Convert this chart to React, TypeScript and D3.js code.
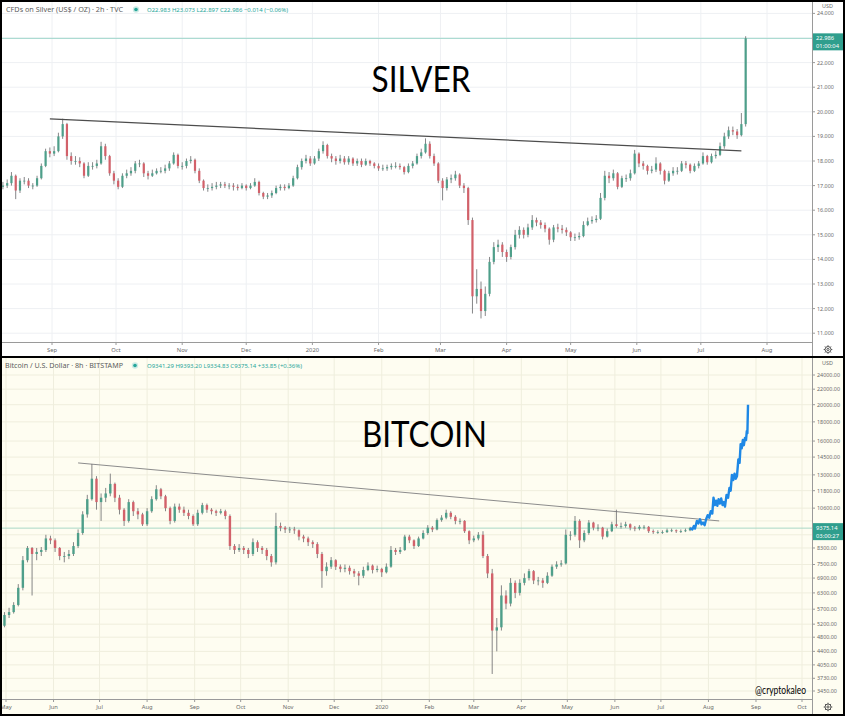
import * as d3 from "d3";

const W = 845;
const H = 716;

// ---- Silver (TVC, 2h) – one candle per 2 days ----
const SILVER_FIRST_DAY = "2019-08-09";
const SILVER_BAR_DAYS = 2;
const SILVER_OPEN_0 = 16.95;
const SILVER_CLOSE = [
  17.0, 17.1, 17.4, 16.8, 17.2, 17.2, 17.0, 17.0, 17.3, 17.8,
  18.4, 18.3, 18.4, 19.0, 19.5, 18.2, 18.0, 18.0, 17.9, 17.4,
  17.8, 17.8, 17.9, 18.6, 18.2, 17.5, 17.2, 16.95, 17.4, 17.5,
  17.6, 17.9, 17.9, 17.5, 17.4, 17.5, 17.6, 17.6, 17.7, 17.9,
  18.25, 17.8, 17.8, 18.0, 18.05, 17.6, 17.2, 16.9, 16.9, 16.95,
  17.0, 17.05, 17.0, 17.0, 16.95, 16.9, 17.0, 16.9, 17.0, 17.15,
  16.7, 16.55, 16.6, 16.7, 16.9, 16.95, 16.9, 17.0, 17.3, 17.75,
  18.0, 18.1, 17.9, 18.1, 18.4, 18.65, 18.2, 18.1, 18.0, 18.1,
  17.95, 18.1, 17.9, 18.0, 17.85, 18.0, 17.9, 17.8, 17.7, 17.7,
  17.75, 17.8, 17.8, 17.75, 17.55, 17.8, 17.9, 18.2, 18.35, 18.7,
  18.2, 17.9, 17.2, 16.9, 17.25, 17.3, 17.45, 17.0, 16.9, 15.6,
  12.5, 12.8, 11.9, 12.6, 13.9, 14.5, 14.6, 14.3, 14.1, 14.5,
  15.0, 15.2, 15.0, 15.3, 15.6, 15.5, 15.4, 15.25, 14.8, 15.3,
  15.25, 15.2, 15.1, 14.9, 14.9, 14.95, 15.4, 15.55, 15.6, 15.65,
  16.5, 17.4, 17.3, 17.5, 16.95, 17.3, 17.3, 17.5, 18.3, 17.9,
  17.8, 17.6, 17.65, 17.9, 17.6, 17.2, 17.5, 17.6, 17.6, 17.9,
  17.85, 17.6, 17.8, 17.9, 18.2, 17.95, 18.2, 18.25, 18.6, 19.0,
  19.25, 19.2, 19.05, 19.5, 22.986,
];
const SILVER_HIGH = [
  17.15, 17.25, 17.55, 17.45, 17.3, 17.35, 17.3, 17.1, 17.4, 17.9,
  18.5, 18.55, 18.6, 19.15, 19.72, 19.55, 18.35, 18.2, 18.15, 17.95,
  17.95, 17.95, 18.05, 18.78, 18.7, 18.25, 17.6, 17.3, 17.5, 17.65,
  17.75, 18.0, 18.05, 17.95, 17.6, 17.65, 17.7, 17.75, 17.85, 18.0,
  18.35, 18.3, 17.95, 18.1, 18.2, 18.1, 17.7, 17.25, 17.05, 17.1,
  17.15, 17.15, 17.15, 17.1, 17.1, 17.05, 17.1, 17.05, 17.1, 17.3,
  17.2, 16.75, 16.7, 16.8, 17.0, 17.05, 17.05, 17.1, 17.4, 17.85,
  18.1, 18.25, 18.2, 18.2, 18.5, 18.8, 18.7, 18.3, 18.2, 18.25,
  18.2, 18.2, 18.15, 18.1, 18.1, 18.1, 18.05, 17.95, 17.9, 17.85,
  17.85, 17.9, 17.95, 17.9, 17.8, 17.9, 18.0, 18.3, 18.5, 18.92,
  18.8, 18.3, 17.95, 17.3, 17.35, 17.45, 17.6, 17.5, 17.1, 16.95,
  15.7, 13.6, 13.1, 12.9, 14.1, 14.7, 14.8, 14.7, 14.4, 14.6,
  15.2, 15.35, 15.3, 15.45, 15.8, 15.7, 15.6, 15.5, 15.3, 15.4,
  15.45, 15.4, 15.3, 15.15, 15.05, 15.1, 15.55, 15.7, 15.75, 15.8,
  16.7, 17.6, 17.55, 17.65, 17.55, 17.4, 17.45, 17.65, 18.45, 18.35,
  18.0, 17.85, 17.8, 18.15, 17.95, 17.65, 17.6, 17.75, 17.75, 18.0,
  18.0, 17.9, 17.9, 18.0, 18.35, 18.25, 18.3, 18.4, 18.75, 19.15,
  19.4, 19.4, 19.3, 19.95, 23.073,
];
const SILVER_LOW = [
  16.85, 16.9, 17.0, 16.45, 16.7, 17.05, 16.9, 16.85, 16.95, 17.25,
  17.75, 18.15, 18.2, 18.35, 18.9, 18.05, 17.85, 17.85, 17.75, 17.3,
  17.35, 17.65, 17.7, 17.85, 18.05, 17.4, 17.05, 16.85, 16.9, 17.3,
  17.4, 17.5, 17.75, 17.35, 17.25, 17.35, 17.45, 17.5, 17.5, 17.6,
  17.85, 17.7, 17.65, 17.7, 17.9, 17.5, 17.1, 16.8, 16.75, 16.8,
  16.85, 16.9, 16.9, 16.85, 16.8, 16.8, 16.85, 16.8, 16.85, 16.95,
  16.6, 16.45, 16.45, 16.5, 16.65, 16.8, 16.8, 16.85, 16.95, 17.25,
  17.65, 17.9, 17.8, 17.85, 18.0, 18.3, 18.1, 17.95, 17.85, 17.9,
  17.85, 17.85, 17.8, 17.8, 17.75, 17.8, 17.8, 17.7, 17.6, 17.6,
  17.6, 17.65, 17.7, 17.65, 17.45, 17.5, 17.7, 17.85, 18.1, 18.3,
  18.1, 17.8, 17.1, 16.4, 16.8, 17.1, 17.2, 16.9, 16.7, 15.4,
  11.8, 12.2, 11.6, 11.7, 12.5, 13.8, 14.3, 14.1, 13.9, 14.0,
  14.4, 14.85, 14.85, 14.9, 15.2, 15.35, 15.25, 15.1, 14.6, 14.7,
  15.1, 15.05, 14.95, 14.75, 14.75, 14.8, 14.9, 15.35, 15.45, 15.5,
  15.6, 16.4, 17.1, 17.2, 16.85, 16.9, 17.15, 17.2, 17.45, 17.75,
  17.65, 17.45, 17.5, 17.55, 17.45, 17.05, 17.15, 17.4, 17.45, 17.55,
  17.7, 17.5, 17.55, 17.7, 17.85, 17.85, 17.9, 18.1, 18.2, 18.5,
  18.9, 19.05, 18.9, 19.0, 19.4,
];
const SILVER_TICKS = [11, 12, 13, 14, 15, 16, 17, 18, 19, 20, 21, 22, 23, 24];
const SILVER_TREND_DATES = ["2019-08-31", "2020-07-20"];
const SILVER_TREND_VALUES = [19.71, 18.41];
const SILVER_LAST = 22.986;

// ---- Bitcoin (BITSTAMP, 8h) – one candle per 3 days ----
const BTC_FIRST_DAY = "2019-04-27";
const BTC_BAR_DAYS = 3;
const BTC_OPEN_0 = 5100;
const BTC_CLOSE = [
  5150, 5500, 5600, 5850, 6500, 7700, 8300, 8000, 8100, 8200,
  8800, 8700, 8300, 7900, 7900, 8000, 8400, 9100, 10200, 11200,
  12700, 11000, 11300, 11600, 12300, 11300, 10500, 9800, 11000, 10400,
  10200, 9600, 10400, 11200, 11900, 11400, 10600, 9800, 10700, 10500,
  10300, 10100, 9600, 10300, 10800, 10500, 10400, 10300, 10400, 10100,
  8400, 8200, 8300, 8200, 8000, 8600, 8300, 8200, 7900, 7600,
  9500, 9400, 9300, 9300, 9250, 8900, 8800, 8600, 8500, 8000,
  7200, 7400, 7700, 7400, 7300, 7350, 7200, 7100, 7000, 7250,
  7450, 7250, 7300, 7150, 7400, 8200, 8100, 8200, 8900, 8700,
  8400, 8800, 9100, 9400, 9300, 9850, 10000, 10300, 10050, 9800,
  9800, 9200, 8700, 8800, 9000, 7900, 7100, 5000, 5100, 6200,
  5900, 6700, 6300, 6700, 6900, 7200, 6800, 6800, 6700, 7000,
  7400, 7500, 7550, 9000, 9000, 9800, 8700, 9100, 9700, 9400,
  9400, 8900, 9200, 9600, 9500, 9500, 9600, 9400, 9350, 9450,
  9450, 9200, 9150, 9150, 9150, 9250, 9250, 9200, 9200, 9250,
  9375.14,
];
const BTC_HIGH = [
  5250, 5600, 5750, 5950, 6650, 7900, 8400, 8350, 8300, 8350,
  9000, 8950, 8800, 8350, 8100, 8200, 8600, 9300, 10400, 11500,
  13900, 12900, 11600, 12000, 13100, 12400, 11500, 10600, 11200, 11100,
  10600, 10300, 10600, 11400, 12200, 12000, 11500, 10700, 10900, 10900,
  10700, 10500, 10200, 10500, 10950, 10900, 10600, 10500, 10550, 10500,
  10200, 8500, 8500, 8400, 8300, 8800, 8700, 8400, 8300, 8000,
  10300, 9700, 9500, 9450, 9450, 9300, 9000, 8900, 8700, 8600,
  8100, 7600, 7850, 7750, 7500, 7500, 7450, 7300, 7200, 7400,
  7600, 7500, 7450, 7350, 7550, 8400, 8300, 8350, 9000, 9000,
  8750, 8900, 9250, 9550, 9500, 9950, 10150, 10500, 10400, 10150,
  9950, 9850, 9250, 8950, 9150, 9200, 8000, 7300, 5400, 6600,
  6400, 6900, 6800, 6850, 7100, 7300, 7250, 6950, 6900, 7150,
  7500, 7650, 7700, 9300, 9200, 10100, 9900, 9250, 9850, 9750,
  9600, 9450, 9350, 9750, 10500, 9700, 9750, 9650, 9500, 9550,
  9550, 9500, 9300, 9250, 9250, 9350, 9350, 9300, 9300, 9350,
  9450,
];
const BTC_LOW = [
  5050, 5100, 5400, 5550, 5800, 6400, 7600, 6200, 7700, 7900,
  8100, 8500, 8100, 7700, 7600, 7750, 7900, 8300, 9000, 10000,
  11100, 10500, 9800, 11000, 11400, 11000, 10200, 9500, 9700, 10100,
  9900, 9500, 9500, 10300, 11100, 11200, 10400, 9600, 9700, 10300,
  10100, 9900, 9500, 9500, 10200, 10300, 10200, 10100, 10200, 9900,
  8200, 8000, 8100, 8000, 7800, 7900, 8100, 8000, 7700, 7400,
  7500, 9200, 9100, 9100, 9050, 8700, 8600, 8400, 8300, 7800,
  6500, 7000, 7300, 7250, 7150, 7150, 7050, 6950, 6600, 6900,
  7200, 7100, 7150, 6950, 7100, 7350, 7950, 8000, 8150, 8550,
  8250, 8350, 8750, 9000, 9150, 9250, 9750, 9900, 9900, 9600,
  9600, 9100, 8500, 8600, 8700, 7800, 6900, 3830, 4400, 5000,
  5700, 5800, 6100, 6200, 6600, 6800, 6650, 6600, 6500, 6650,
  6950, 7300, 7400, 7500, 8700, 8900, 8300, 8600, 9000, 9250,
  9200, 8750, 8850, 9150, 9400, 9350, 9400, 9250, 9200, 9250,
  9300, 9100, 9050, 9050, 9050, 9100, 9150, 9100, 9100, 9150,
  9200,
];
// hand-drawn blue projection after the last candle (days after it, price)
const BTC_PROJ_DAYS = [
  0, 1.5, 2.5, 3.2, 4.5, 5.5, 6.5, 7.5, 8.5, 9.5, 10.5, 11.5, 12.5, 13.5,
  14.5, 15.3, 16.2, 17, 17.8, 18.6, 19.5, 20.3, 21.2, 22, 22.8, 23.8, 24.8,
  25.7, 26.5, 27.3, 28.2, 29, 29.8, 30.6, 31.5, 32.3, 33, 33.7, 34.4, 35.1,
  35.8, 36.5, 37, 37.4, 37.8,
];
const BTC_PROJ_VALUES = [
  9375, 9300, 9500, 9350, 9800, 9650, 9900, 9600, 9700, 9550, 9900, 10150,
  10000, 10400, 10250, 11300, 10800, 11100, 10750, 11200, 10900, 11250, 10800,
  11000, 10700, 11500, 11300, 12000, 11800, 13000, 12600, 13100, 12700, 12900,
  14300, 14000, 15700, 15300, 16100, 15600, 16300, 16100, 17000, 16800, 20000,
];
const BTC_TICKS = [
  24000, 22000, 20000, 18000, 16000, 14500, 13000, 11800, 10600, 9800, 9000,
  8300, 7500, 6900, 6300, 5700, 5200, 4800, 4400, 4050, 3730, 3450,
];
const BTC_TREND_DATES = ["2019-06-17", "2020-08-08"];
const BTC_TREND_VALUES = [13990, 9800];
const BTC_LAST = 9375.14;

const UP = "#4e9f8a";
const DOWN = "#d2616a";
const WICK = "#707072";
const FONT = "'Noto Sans', 'DejaVu Sans', sans-serif";
const AXIS_FS = 5.4;

type Bar = { date: Date; open: number; close: number; high: number; low: number };

function toBars(first: string, step: number, open0: number, close: number[], high: number[], low: number[]): Bar[] {
  const start = new Date(first);
  return close.map((c, i) => ({
    date: d3.utcDay.offset(start, i * step),
    open: i === 0 ? open0 : close[i - 1],
    close: c,
    high: high[i],
    low: low[i],
  }));
}

const silverBars = toBars(SILVER_FIRST_DAY, SILVER_BAR_DAYS, SILVER_OPEN_0, SILVER_CLOSE, SILVER_HIGH, SILVER_LOW);
const btcBars = toBars(BTC_FIRST_DAY, BTC_BAR_DAYS, BTC_OPEN_0, BTC_CLOSE, BTC_HIGH, BTC_LOW);

type Panel = {
  top: number;
  bottom: number; // plot bottom (time axis line)
  axisBottom: number;
  bg: string;
  grid: string;
  x: d3.ScaleTime<number, number>;
  y: (v: number) => number;
  monthStart: Date;
  monthEnd: Date;
  ticks: number[];
  last: number;
  fmt: (v: number) => string;
};

const PLOT_LEFT = 2;
const PLOT_RIGHT = 812;

function Candles({ bars, x, y, bodyW }: { bars: Bar[]; x: (d: Date) => number; y: (v: number) => number; bodyW: number }) {
  return (
    <g>
      {bars.map((b, i) => {
        const cx = x(b.date);
        const up = b.close >= b.open;
        const yTop = y(Math.max(b.open, b.close));
        const yBot = y(Math.min(b.open, b.close));
        return (
          <g key={i}>
            <line x1={cx} x2={cx} y1={y(b.high)} y2={y(b.low)} stroke={WICK} strokeWidth={0.85} />
            <rect x={cx - bodyW / 2} y={yTop} width={bodyW} height={Math.max(0.8, yBot - yTop)} fill={up ? UP : DOWN} />
          </g>
        );
      })}
    </g>
  );
}

function Gear({ cx, cy }: { cx: number; cy: number }) {
  const teeth = d3.range(8).map((k) => (k * Math.PI) / 4);
  return (
    <g stroke="#555" fill="none" strokeWidth={1}>
      <circle cx={cx} cy={cy} r={3} />
      <circle cx={cx} cy={cy} r={1.1} />
      {teeth.map((a, i) => (
        <line key={i} x1={cx + Math.cos(a) * 3} y1={cy + Math.sin(a) * 3} x2={cx + Math.cos(a) * 4.3} y2={cy + Math.sin(a) * 4.3} />
      ))}
    </g>
  );
}

function PanelFrame({ p, children }: { p: Panel; children?: React.ReactNode }) {
  const months = d3.utcMonth.range(p.monthStart, d3.utcDay.offset(p.monthEnd, 1));
  const boxY = p.y(p.last);
  // labels hidden where the last-price box sits, like the original
  const labelled = p.ticks.filter((t) => Math.abs(p.y(t) - (boxY + 3.5)) > 11 && p.y(t) > p.top + 10);
  return (
    <g>
      <rect x={0} y={p.top} width={W} height={p.axisBottom - p.top} fill={p.bg} />
      {/* grid */}
      {p.ticks.map((t) => (
        <line key={"h" + t} x1={PLOT_LEFT} x2={PLOT_RIGHT} y1={p.y(t)} y2={p.y(t)} stroke={p.grid} strokeWidth={1} />
      ))}
      {months.map((m) => (
        <line key={"v" + +m} x1={p.x(m)} x2={p.x(m)} y1={p.top} y2={p.bottom} stroke={p.grid} strokeWidth={1} />
      ))}
      {children}
      {/* price axis */}
      <rect x={PLOT_RIGHT} y={p.top} width={W - PLOT_RIGHT} height={p.axisBottom - p.top} fill={p.bg} />
      <line x1={PLOT_RIGHT + 0.5} x2={PLOT_RIGHT + 0.5} y1={p.top} y2={p.axisBottom} stroke="#9a9a9a" strokeWidth={1} />
      {labelled.map((t) => (
        <g key={"t" + t}>
          <line x1={PLOT_RIGHT} x2={PLOT_RIGHT + 3} y1={p.y(t)} y2={p.y(t)} stroke="#9a9a9a" />
          <text x={PLOT_RIGHT + 5} y={p.y(t) + 2} fontSize={AXIS_FS} fill="#6a6a6a" fontFamily={FONT}>
            {p.fmt(t)}
          </text>
        </g>
      ))}
      {/* time axis */}
      <rect x={0} y={p.bottom} width={PLOT_RIGHT} height={p.axisBottom - p.bottom} fill={p.bg} />
      <line x1={0} x2={PLOT_RIGHT} y1={p.bottom + 0.5} y2={p.bottom + 0.5} stroke="#9a9a9a" strokeWidth={1} />
      {months.map((m) => (
        <g key={"m" + +m}>
          <line x1={p.x(m)} x2={p.x(m)} y1={p.bottom} y2={p.bottom + 3} stroke="#9a9a9a" />
          <text x={p.x(m)} y={p.bottom + 10} fontSize={5.8} fill="#6a6a6a" textAnchor="middle" fontFamily={FONT}>
            {m.getUTCMonth() === 0 ? d3.utcFormat("%Y")(m) : d3.utcFormat("%b")(m)}
          </text>
        </g>
      ))}
      <Gear cx={828} cy={(p.bottom + p.axisBottom) / 2 + 0.5} />
    </g>
  );
}

function PriceBox({ y, value, timer }: { y: number; value: string; timer: string }) {
  return (
    <g fontFamily={FONT}>
      <rect x={PLOT_RIGHT + 1} y={y - 5} width={W - PLOT_RIGHT - 3} height={17} fill="#2f9e8d" />
      <text x={PLOT_RIGHT + 4} y={y + 2} fontSize={5.8} fill="#fff">
        {value}
      </text>
      <text x={PLOT_RIGHT + 4} y={y + 10} fontSize={5.8} fill="#fff">
        {timer}
      </text>
    </g>
  );
}

export default function App() {
  const silver: Panel = {
    top: 2,
    bottom: 342,
    axisBottom: 356,
    bg: "#ffffff",
    grid: "#eef0f3",
    x: d3.scaleUtc().domain([new Date("2019-09-01"), new Date("2020-08-01")]).range([52, 767]),
    y: d3.scaleLinear().domain([11, 24]).range([333.2, 13.4]),
    monthStart: new Date("2019-09-01"),
    monthEnd: new Date("2020-08-01"),
    ticks: SILVER_TICKS,
    last: SILVER_LAST,
    fmt: (v) => v.toFixed(3),
  };
  const btc: Panel = {
    top: 358,
    bottom: 699,
    axisBottom: 714,
    bg: "#fefdf1",
    grid: "#efeedd",
    x: d3.scaleUtc().domain([new Date("2019-05-01"), new Date("2020-10-01")]).range([6, 802]),
    y: d3.scaleLog().domain([3450, 24000]).range([691, 375]),
    monthStart: new Date("2019-05-01"),
    monthEnd: new Date("2020-10-01"),
    ticks: BTC_TICKS,
    last: BTC_LAST,
    fmt: (v) => v.toFixed(2),
  };

  const lastBtc = btcBars[btcBars.length - 1].date;
  const projLine = d3
    .line<number>()
    .x((d) => btc.x(new Date(lastBtc.getTime() + d * 86400000)))
    .y((_, i) => btc.y(BTC_PROJ_VALUES[i]));

  return (
    <svg width={W} height={H} style={{ position: "absolute", left: 0, top: 0, display: "block" }} fontFamily={FONT}>
      <rect width={W} height={H} fill="#fff" />
      {/* SILVER */}
      <PanelFrame p={silver}>
        <line x1={PLOT_LEFT} x2={PLOT_RIGHT} y1={silver.y(SILVER_LAST)} y2={silver.y(SILVER_LAST)} stroke="#9fd6cc" strokeWidth={1} />
        <Candles bars={silverBars} x={silver.x} y={silver.y} bodyW={2.2} />
        <line
          x1={silver.x(new Date(SILVER_TREND_DATES[0]))}
          x2={silver.x(new Date(SILVER_TREND_DATES[1]))}
          y1={silver.y(SILVER_TREND_VALUES[0])}
          y2={silver.y(SILVER_TREND_VALUES[1])}
          stroke="#4d4d4d"
          strokeWidth={1.2}
        />
        <text x={6} y={12} fontSize={6.8} fill="#5d5d5d" textLength={117} lengthAdjust="spacingAndGlyphs">
          CFDs on Silver (US$ / OZ) · 2h · TVC
        </text>
        <circle cx={136} cy={9.5} r={3.2} fill="#cdebe5" />
        <circle cx={136} cy={9.5} r={1.8} fill="#26a69a" />
        <text x={147} y={12} fontSize={5.8} fill="#26a69a" textLength={141} lengthAdjust="spacingAndGlyphs">
          O22.983 H23.073 L22.897 C22.986 −0.014 (−0.06%)
        </text>
        <text x={421} y={92} fontSize={36} fill="#000" textAnchor="middle" fontFamily="Lato, 'Open Sans', sans-serif" textLength={99} lengthAdjust="spacingAndGlyphs">
          SILVER
        </text>
      </PanelFrame>
      <text x={PLOT_RIGHT + 10} y={7.5} fontSize={5.4} fill="#6a6a6a">USD</text>
      <PriceBox y={silver.y(SILVER_LAST)} value="22.986" timer="01:00:04" />

      {/* BITCOIN */}
      <PanelFrame p={btc}>
        <line x1={PLOT_LEFT} x2={PLOT_RIGHT} y1={btc.y(BTC_LAST)} y2={btc.y(BTC_LAST)} stroke="#a9d8c6" strokeWidth={1} />
        <line
          x1={btc.x(new Date(BTC_TREND_DATES[0]))}
          x2={btc.x(new Date(BTC_TREND_DATES[1]))}
          y1={btc.y(BTC_TREND_VALUES[0])}
          y2={btc.y(BTC_TREND_VALUES[1])}
          stroke="#8c8c8c"
          strokeWidth={1}
        />
        <Candles bars={btcBars} x={btc.x} y={btc.y} bodyW={2.4} />
        <path d={projLine(BTC_PROJ_DAYS) ?? ""} fill="none" stroke="#1e88e5" strokeWidth={2.4} strokeLinejoin="round" />
        <text x={5} y={368} fontSize={6.8} fill="#5d5d5d" textLength={118} lengthAdjust="spacingAndGlyphs">
          Bitcoin / U.S. Dollar · 8h · BITSTAMP
        </text>
        <circle cx={135} cy={365.5} r={3.2} fill="#cdebe5" />
        <circle cx={135} cy={365.5} r={1.8} fill="#26a69a" />
        <text x={147} y={368} fontSize={5.8} fill="#26a69a" textLength={155} lengthAdjust="spacingAndGlyphs">
          O9341.29 H9393.20 L9334.83 C9375.14 +33.85 (+0.36%)
        </text>
        <text x={424.5} y={447} fontSize={36} fill="#000" textAnchor="middle" fontFamily="Lato, 'Open Sans', sans-serif" textLength={125} lengthAdjust="spacingAndGlyphs">
          BITCOIN
        </text>
        <text x={780.5} y={694} fontSize={12} fill="#000" textAnchor="middle" fontFamily="Lato, 'Open Sans', sans-serif" textLength={51} lengthAdjust="spacingAndGlyphs">
          @cryptokaleo
        </text>
      </PanelFrame>
      <text x={PLOT_RIGHT + 10} y={365} fontSize={5.4} fill="#6a6a6a">USD</text>
      <PriceBox y={btc.y(BTC_LAST)} value="9375.14" timer="03:00:27" />

      {/* frame */}
      <rect x={1} y={1} width={W - 2} height={H - 2} fill="none" stroke="#000" strokeWidth={2} />
      <line x1={0} x2={W} y1={357} y2={357} stroke="#000" strokeWidth={2} />
    </svg>
  );
}
